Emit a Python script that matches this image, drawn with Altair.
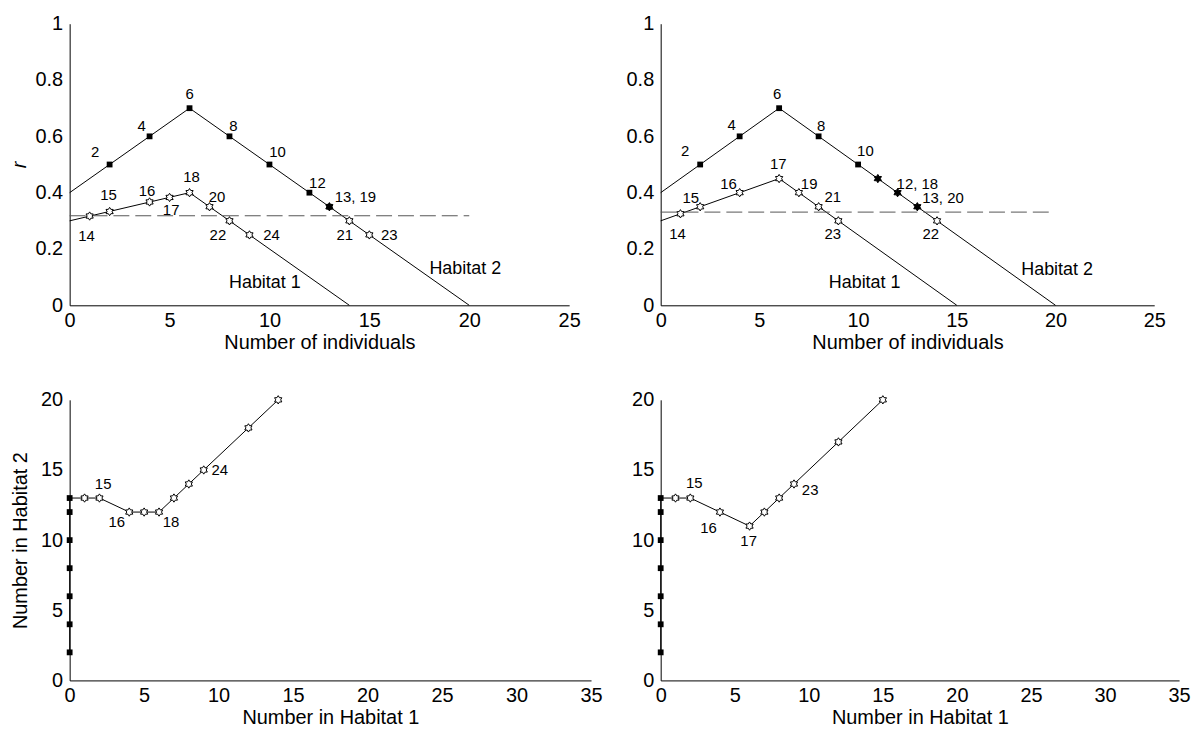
import altair as alt
import pandas as pd

FONT = "Liberation Sans"
STAR = ("M0,-1L0.3,-0.52L0.866,-0.5L0.6,0L0.866,0.5L0.3,0.52L0,1L-0.3,0.52"
        "L-0.866,0.5L-0.6,0L-0.866,-0.5L-0.3,-0.52Z")

# ---------------- Top-left panel ----------------
tl_h2_x = [0, 6, 20]
tl_h2_y = [0.4, 0.7, 0.0]
tl_h1_x = [0, 6, 14]
tl_h1_y = [0.3, 0.4, 0.0]
tl_sq_x = [2, 4, 6, 8, 10, 12, 13]
tl_sq_y = [0.5, 0.6, 0.7, 0.6, 0.5, 0.4, 0.35]
tl_star_x = [1, 2, 4, 5, 6, 7, 8, 9, 14, 15]
tl_star_y = [0.317, 0.333, 0.367, 0.383, 0.4, 0.35, 0.3, 0.25, 0.3, 0.25]
tl_fstar_x = [13]
tl_fstar_y = [0.35]
tl_dash = [0, 20, 0.318]
tl_lab_t = ["2", "4", "6", "8", "10", "12", "13, 19", "15", "16", "17", "18", "20",
            "14", "22", "24", "21", "23"]
tl_lab_x = [1.27, 3.6, 6.0, 8.2, 10.4, 12.4, 14.3, 1.95, 3.87, 5.08, 6.1, 7.38,
            0.84, 7.42, 10.1, 13.77, 16.0]
tl_lab_y = [0.544, 0.635, 0.752, 0.635, 0.544, 0.433, 0.386, 0.39, 0.407, 0.339, 0.456, 0.386,
            0.246, 0.248, 0.251, 0.248, 0.248]
tl_hab_t = ["Habitat 1", "Habitat 2"]
tl_hab_x = [9.77, 19.8]
tl_hab_y = [0.078, 0.129]

# ---------------- Top-right panel ----------------
tr_h2_x = [0, 6, 20]
tr_h2_y = [0.4, 0.7, 0.0]
tr_h1_x = [0, 6, 15]
tr_h1_y = [0.3, 0.45, 0.0]
tr_sq_x = [2, 4, 6, 8, 10]
tr_sq_y = [0.5, 0.6, 0.7, 0.6, 0.5]
tr_star_x = [1, 2, 4, 6, 7, 8, 9, 14]
tr_star_y = [0.325, 0.35, 0.4, 0.45, 0.4, 0.35, 0.3, 0.3]
tr_fstar_x = [11, 12, 13]
tr_fstar_y = [0.45, 0.4, 0.35]
tr_dash = [0, 19.8, 0.331]
tr_lab_t = ["2", "4", "6", "8", "10", "17", "16", "15", "19", "21", "12, 18", "13, 20",
            "14", "23", "22"]
tr_lab_x = [1.24, 3.6, 5.9, 8.13, 10.37, 5.96, 3.44, 1.52, 7.52, 8.72, 13.0, 14.3,
            0.85, 8.72, 13.68]
tr_lab_y = [0.548, 0.64, 0.75, 0.636, 0.548, 0.503, 0.431, 0.381, 0.431, 0.384, 0.431, 0.381,
            0.252, 0.252, 0.252]
tr_hab_t = ["Habitat 1", "Habitat 2"]
tr_hab_x = [10.33, 20.08]
tr_hab_y = [0.079, 0.126]

# ---------------- Bottom-left panel ----------------
bl_sq_x = [0, 0, 0, 0, 0, 0, 0]
bl_sq_y = [2, 4, 6, 8, 10, 12, 13]
bl_star_x = [1, 2, 4, 5, 6, 7, 8, 9, 12, 14]
bl_star_y = [13, 13, 12, 12, 12, 13, 14, 15, 18, 20]
bl_lab_t = ["15", "16", "18", "24"]
bl_lab_x = [2.25, 3.16, 6.8, 10.08]
bl_lab_y = [14.0, 11.26, 11.26, 15.0]

# ---------------- Bottom-right panel ----------------
br_sq_x = [0, 0, 0, 0, 0, 0, 0]
br_sq_y = [2, 4, 6, 8, 10, 12, 13]
br_star_x = [1, 2, 4, 6, 7, 8, 9, 12, 15]
br_star_y = [13, 13, 12, 11, 12, 13, 14, 17, 20]
br_lab_t = ["15", "16", "17", "23"]
br_lab_x = [2.27, 3.23, 5.94, 10.09]
br_lab_y = [14.04, 10.84, 9.96, 13.57]


def enc(xdom, ydom, xvals, yvals, xtitle, ytitle, yfmt, ytp):
    x = alt.X("x:Q", scale=alt.Scale(domain=xdom, nice=False, zero=False),
              axis=alt.Axis(values=xvals, title=xtitle, format="~g"))
    yax = dict(values=yvals, format=yfmt, titlePadding=ytp)
    if ytitle == "r":
        yax["titleFontStyle"] = "italic"
    y = alt.Y("y:Q", scale=alt.Scale(domain=ydom, nice=False, zero=False),
              axis=alt.Axis(title=ytitle, **yax))
    return x, y


def panel(lines, sq, star, fstar, dash, labs, habs, xdom, ydom, xvals, yvals,
          xtitle, ytitle, yfmt, ytp, w, h):
    x, y = enc(xdom, ydom, xvals, yvals, xtitle, ytitle, yfmt, ytp)
    layers = []
    rows = []
    for sid, (lx, ly) in enumerate(lines):
        for i, (a, b) in enumerate(zip(lx, ly)):
            rows.append({"x": a, "y": b, "s": sid, "i": i})
    ldf = pd.DataFrame(rows)
    layers.append(alt.Chart(ldf).mark_line(color="black", strokeWidth=1).encode(
        x=x, y=y, detail="s:N", order="i:Q"))
    if dash is not None:
        ddf = pd.DataFrame({"x": [dash[0]], "x2": [dash[1]], "y": [dash[2]]})
        layers.append(alt.Chart(ddf).mark_rule(color="#555", strokeWidth=1,
                                               strokeDash=[16, 6]).encode(
            x=x, x2="x2:Q", y=y))
    sdf = pd.DataFrame({"x": sq[0], "y": sq[1]})
    layers.append(alt.Chart(sdf).mark_point(shape="square", filled=True, color="black",
                                            size=34, opacity=1).encode(x=x, y=y))
    stdf = pd.DataFrame({"x": star[0], "y": star[1]})
    layers.append(alt.Chart(stdf).mark_point(shape=STAR, fill="white", stroke="black",
                                             strokeWidth=1, size=70, opacity=1,
                                             fillOpacity=1).encode(x=x, y=y))
    if fstar is not None:
        fdf = pd.DataFrame({"x": fstar[0], "y": fstar[1]})
        layers.append(alt.Chart(fdf).mark_point(shape=STAR, fill="black", stroke="black",
                                                strokeWidth=1, size=70, opacity=1,
                                                fillOpacity=1).encode(x=x, y=y))
    tdf = pd.DataFrame({"x": labs[1], "y": labs[2], "t": labs[0]})
    layers.append(alt.Chart(tdf).mark_text(font=FONT, fontSize=15, color="black").encode(
        x=x, y=y, text="t:N"))
    if habs is not None:
        hdf = pd.DataFrame({"x": habs[1], "y": habs[2], "t": habs[0]})
        layers.append(alt.Chart(hdf).mark_text(font=FONT, fontSize=18, color="black").encode(
            x=x, y=y, text="t:N"))
    return alt.layer(*layers).properties(width=w, height=h)


yv_r = [0, 0.2, 0.4, 0.6, 0.8, 1]
xv_top = [0, 5, 10, 15, 20, 25]
xv_bot = [0, 5, 10, 15, 20, 25, 30, 35]
yv_bot = [0, 5, 10, 15, 20]

tl = panel([(tl_h2_x, tl_h2_y), (tl_h1_x, tl_h1_y)], (tl_sq_x, tl_sq_y),
           (tl_star_x, tl_star_y), (tl_fstar_x, tl_fstar_y), tl_dash,
           (tl_lab_t, tl_lab_x, tl_lab_y), (tl_hab_t, tl_hab_x, tl_hab_y),
           [0, 25], [0, 1], xv_top, yv_r, "Number of individuals", "r", "~g", 6, 502, 283)
tr = panel([(tr_h2_x, tr_h2_y), (tr_h1_x, tr_h1_y)], (tr_sq_x, tr_sq_y),
           (tr_star_x, tr_star_y), (tr_fstar_x, tr_fstar_y), tr_dash,
           (tr_lab_t, tr_lab_x, tr_lab_y), (tr_hab_t, tr_hab_x, tr_hab_y),
           [0, 25], [0, 1], xv_top, yv_r, "Number of individuals", None, "~g", 6, 496, 283)
bl_line = ([0] + bl_star_x, [13] + bl_star_y)
bl = panel([(bl_sq_x, bl_sq_y), bl_line], (bl_sq_x, bl_sq_y), (bl_star_x, bl_star_y),
           None, None, (bl_lab_t, bl_lab_x, bl_lab_y), None,
           [0, 35], [0, 20], xv_bot, yv_bot, "Number in Habitat 1", "Number in Habitat 2",
           "~g", 10, 524, 282)
br_line = ([0] + br_star_x, [13] + br_star_y)
br = panel([(br_sq_x, br_sq_y), br_line], (br_sq_x, br_sq_y), (br_star_x, br_star_y),
           None, None, (br_lab_t, br_lab_x, br_lab_y), None,
           [0, 35], [0, 20], xv_bot, yv_bot, "Number in Habitat 1", None,
           "~g", 10, 521, 282)

chart = alt.concat(tl, tr, bl, br, columns=2, bounds="flush",
                   spacing={"row": 95, "column": 70}).properties(
    padding={"left": 9, "top": 12, "right": 5, "bottom": 2}
).configure_view(stroke=None).configure_axis(
    labelFont=FONT, titleFont=FONT, labelFontSize=20, titleFontSize=20,
    labelColor="black", titleColor="black", titleFontWeight="normal",
    domainColor="black", domainWidth=1, ticks=False, grid=False,
    labelPadding=7, titlePadding=4, labelFlush=False
).configure_axisX(titlePadding=2, labelPadding=5)

chart.save("out.html", embed_options={"renderer": "svg", "actions": False})
